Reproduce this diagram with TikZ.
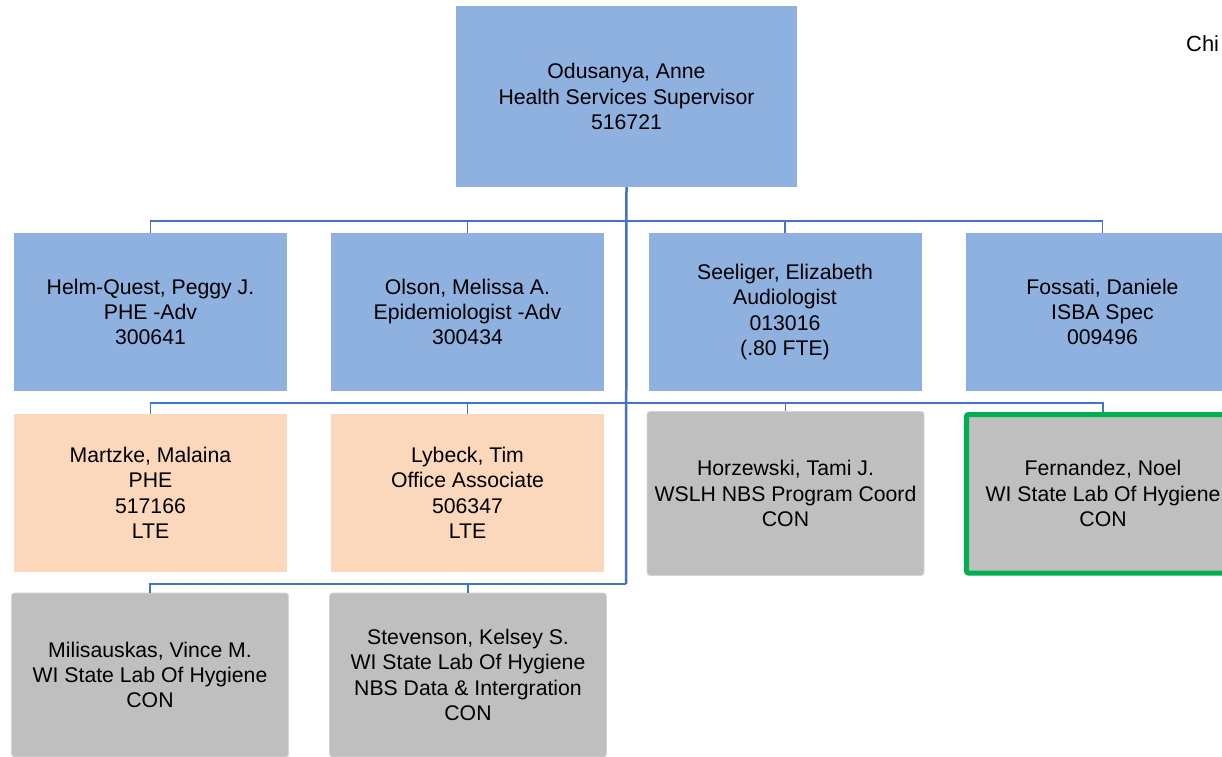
\documentclass[tikz,border=0pt]{standalone}
\usepackage{fontspec}
\setmainfont{Liberation Sans}
\definecolor{boxblue}{HTML}{8FB1E0}
\definecolor{boxpeach}{HTML}{FBD7BB}
\definecolor{boxgray}{HTML}{BFBFBF}
\definecolor{edgegray}{HTML}{D6D6D6}
\definecolor{linkblue}{HTML}{4472C4}
\definecolor{hilite}{HTML}{00B050}
\begin{document}
\begin{tikzpicture}[x=1bp,y=-1bp,
  base/.style={inner sep=0pt, align=center, text=black,
    font=\fontsize{21.3}{25.5}\selectfont},
  bluebox/.style={base, fill=boxblue, minimum width=273bp, minimum height=158bp},
  peachbox/.style={base, fill=boxpeach, minimum width=273bp, minimum height=158bp},
  graybox/.style={base, fill=boxgray, draw=edgegray, line width=0.8bp,
    rounded corners=3bp, minimum width=277bp, minimum height=164bp},
  greenbox/.style={base, fill=boxgray, draw=hilite, line width=5bp,
    rounded corners=2bp, minimum width=273bp, minimum height=158.5bp},
  trunk/.style={draw=linkblue, line width=2.5bp},
  link/.style={draw=linkblue, line width=1.6bp},
]
\clip (0,0) rectangle (1222,757);
\fill[white] (0,0) rectangle (1222,757);

% nodes
\node[bluebox, minimum width=341bp, minimum height=181bp] (boss) at (626.5,96.5)
  {Odusanya, Anne\\Health Services Supervisor\\516721};

\node[bluebox] (r1a) at (150.5,312) {Helm-Quest, Peggy J.\\PHE -Adv\\300641};
\node[bluebox] (r1b) at (467.5,312) {Olson, Melissa A.\\Epidemiologist -Adv\\300434};
\node[bluebox] (r1c) at (785,312) {Seeliger, Elizabeth\\Audiologist\\013016\\(.80 FTE)};
\node[bluebox] (r1d) at (1102.5,312) {Fossati, Daniele\\ISBA Spec\\009496};

\node[peachbox] (r2a) at (150.5,493) {Martzke, Malaina\\PHE\\517166\\LTE};
\node[peachbox] (r2b) at (467.5,493) {Lybeck, Tim\\Office Associate\\506347\\LTE};
\node[graybox] (r2c) at (785.5,493.5) {Horzewski, Tami J.\\WSLH NBS Program Coord\\CON};
\node[greenbox] (r2d) at (1103,493.75) {Fernandez, Noel\\WI State Lab Of Hygiene\\CON};

\node[graybox] (r3a) at (150,675) {Milisauskas, Vince M.\\WI State Lab Of Hygiene\\CON};
\node[graybox] (r3b) at (468,675) {Stevenson, Kelsey S.\\WI State Lab Of Hygiene\\NBS Data \& Intergration\\CON};

\node[base, anchor=base west, font=\fontsize{22}{26}\selectfont] (chi) at (1186,52) {Chi};

% bus junctions
\coordinate (bus1) at (626,221);
\coordinate (bus2) at (626,403);
\coordinate (bus3) at (626,584);

% connectors
\draw[link] (r1a.north) |- (bus1) -| (r1d.north);
\draw[link] (r1b.north) |- (bus1);
\draw[link] (r1c.north) |- (bus1);

\draw[link] (r2a.north) |- (bus2) -| (r2d.north);
\draw[link] (r2b.north) |- (bus2);
\draw[link] (r2c.north) |- (bus2);

\draw[link] (r3a.north) |- (bus3);
\draw[link] (r3b.north) |- (bus3);

\draw[trunk] (boss.south) -- (bus3);
\end{tikzpicture}
\end{document}
